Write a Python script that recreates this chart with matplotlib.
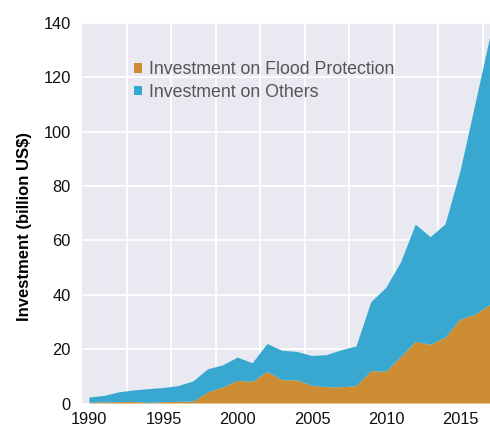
import matplotlib
matplotlib.use("Agg")
import matplotlib.pyplot as plt
import numpy as np
from matplotlib.patches import Patch

years = list(range(1990, 2018))
flood = [0.3, 0.4, 0.5, 0.6, 0.2, 0.5, 0.6, 0.7, 4.1, 5.9, 8.3, 8.0, 11.6, 8.6, 8.5,
         6.5, 6.0, 6.0, 6.4, 11.9, 11.7, 17.0, 22.7, 21.6, 24.2, 30.9, 32.6, 36.2]
total = [2.2, 2.8, 4.1, 4.8, 5.3, 5.7, 6.4, 8.1, 12.6, 14.0, 16.9, 14.8, 21.9, 19.4, 19.0,
         17.5, 17.8, 19.6, 21.0, 37.3, 42.5, 51.9, 65.8, 61.2, 65.9, 85.2, 109.7, 134.5]
others = [t - f for t, f in zip(total, flood)]
xticks = [1990, 1995, 2000, 2005, 2010, 2015]
yticks = [0, 20, 40, 60, 80, 100, 120, 140]
labels = ["Investment on Flood Protection", "Investment on Others"]

c_flood = "#CD8D33"
c_other = "#38A8D0"

plt.rcParams['font.family'] = ['Liberation Sans', 'DejaVu Sans']
fig = plt.figure(figsize=(4.9, 4.28), dpi=100)
ax = fig.add_axes([82/490, 1-403.5/428, 1-82/490, (403.5-23)/428])
ax.set_facecolor("#E9E9F1")

ax.stackplot(years, flood, others, colors=[c_flood, c_other], linewidth=0, zorder=3)

ax.set_xlim(1989.5, 2017)
ax.set_ylim(0, 140)
ax.set_xticks(xticks)
ax.set_xticks(np.arange(1992.5, 2017, 3), minor=True)
ax.set_yticks(yticks)
ax.tick_params(axis='both', which='both', length=0, labelsize=11.8, colors="#111111")
ax.tick_params(axis='x', pad=6)
ax.tick_params(axis='y', pad=8)
ax.grid(False)
ax.grid(True, axis='x', which='minor', color='white', linewidth=1.3, zorder=1)
ax.grid(True, axis='y', which='major', color='white', linewidth=1.3, zorder=1)
ax.set_axisbelow(True)
for s in ax.spines.values():
    s.set_visible(False)

ax.set_ylabel("Investment (billion US$)", fontsize=12.0, fontweight='bold')
ax.yaxis.set_label_coords(-0.122, 0.465)

handles = [Patch(facecolor=c_flood, edgecolor='none'), Patch(facecolor=c_other, edgecolor='none')]
leg = ax.legend(handles, labels, loc='upper left', bbox_to_anchor=(0.128, 0.899),
                frameon=False, fontsize=12.8, handlelength=0.45, handleheight=0.45,
                handletextpad=0.4, labelspacing=0.3, borderaxespad=0, borderpad=0)
for t in leg.get_texts():
    t.set_color("#555555")

fig.savefig("out.png", dpi=100)
